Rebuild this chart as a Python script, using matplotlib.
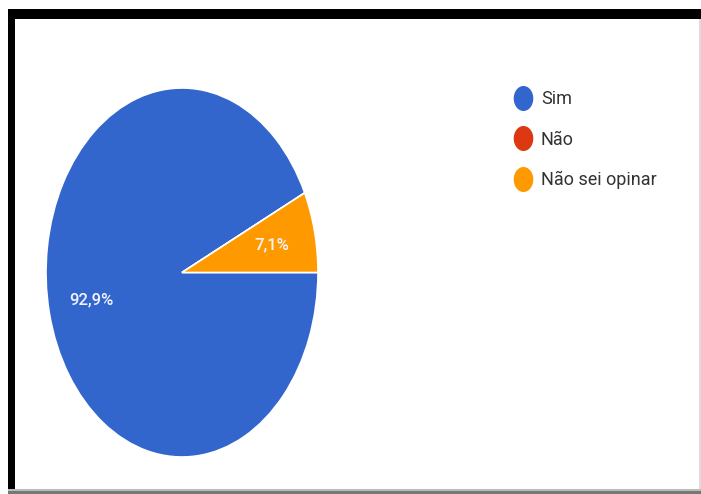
import numpy as np
import matplotlib
matplotlib.use('Agg')
from matplotlib import pyplot as plt
from matplotlib.patches import Rectangle
from matplotlib.lines import Line2D
from matplotlib.path import Path

labels = ['Sim', 'Não', 'Não sei opinar']
values = [92.9, 0.0, 7.1]
colors = ['#3366cc', '#dc3912', '#ff9900']

W, H = 701, 494
fig = plt.figure(figsize=(W / 100, H / 100), dpi=100)
fig.patch.set_facecolor('white')

def px_rect(x0, y0, x1, y1):
    # pixel box (top-left origin) -> figure fraction rect
    return (x0 / W, 1 - y1 / H, (x1 - x0) / W, (y1 - y0) / H)

def box(x0, y0, x1, y1, c):
    r = px_rect(x0, y0, x1, y1)
    fig.add_artist(Rectangle(r[:2], r[2], r[3], transform=fig.transFigure, color=c, lw=0))

# pie axes stretched to an ellipse like the screenshot
ax = fig.add_axes(px_rect(46, 88, 318, 457))

def pct(p):
    if p < 1:
        return ''
    return ('%.1f%%' % p).replace('.', ',')

wedges, texts, autotexts = ax.pie(values, colors=colors, startangle=0, counterclock=False,
                                  autopct=pct, pctdistance=0.68, radius=1,
                                  wedgeprops=dict(edgecolor='white', linewidth=1.2),
                                  textprops=dict(color='#f4f4ff', fontsize=12,
                                                 family='Roboto', fontweight='medium'))
ax.set_aspect('auto')
ax.set_xlim(-1, 1)
ax.set_ylim(-1, 1)
ax.axis('off')

# legend with tall dots
t = np.linspace(0, 2 * np.pi, 60)
dot = Path(np.column_stack([np.cos(t) * 0.77, np.sin(t)]))
handles = [Line2D([], [], linestyle='none', marker=dot, markersize=17,
                  markerfacecolor=c, markeredgecolor=c) for c in colors]
fig.legend(handles, labels, loc='upper left', bbox_to_anchor=(512 / W, 1 - 90 / H),
           frameon=False, prop=dict(family='Roboto', size=13),
           labelcolor='#333333', labelspacing=1.25, handletextpad=0.4,
           handlelength=1.2, borderpad=0, borderaxespad=0)

# screenshot frame
box(8, 9, W, 19, 'black')
box(8, 9, 15, 492, 'black')
box(8, 489, W, 491, '#bbbbbb')
box(8, 491, W, 494, '#777777')
box(699, 19, 701, 489, '#dddddd')

fig.savefig('out.png', dpi=100)
